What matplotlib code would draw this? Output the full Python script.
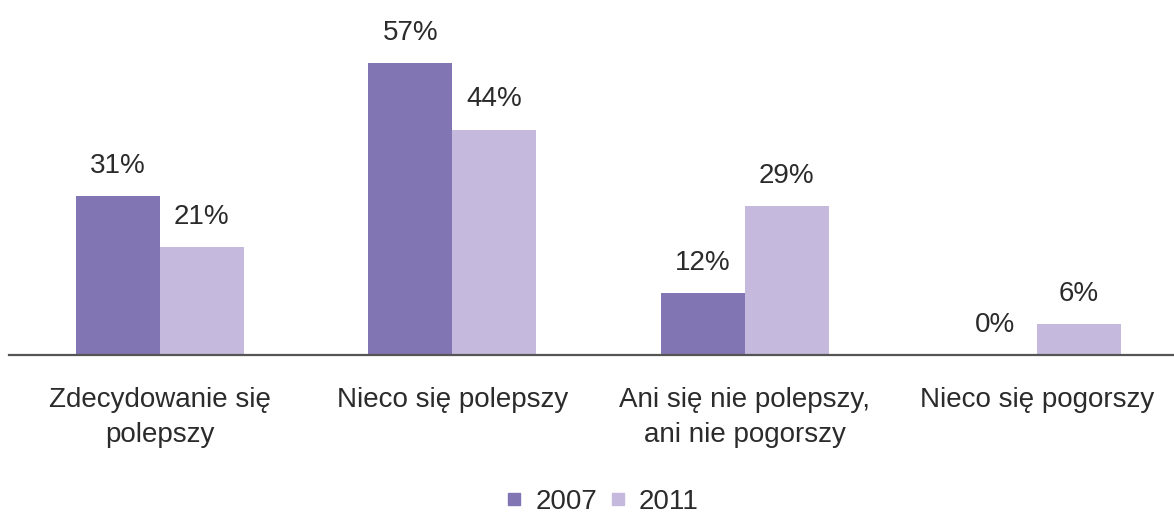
"""
Grouped bar chart: opinion change, 2007 vs 2011.
"""

import matplotlib
matplotlib.use("Agg")
import matplotlib.pyplot as plt
from matplotlib.lines import Line2D
import numpy as np

# ---------------------------------------------------------------------------
# Data
# ---------------------------------------------------------------------------

categories = [
    "Zdecydowanie się\npolepszy",
    "Nieco się polepszy",
    "Ani się nie polepszy,\nani nie pogorszy",
    "Nieco się pogorszy",
]
series_names = ["2007", "2011"]
values_2007 = [31, 57, 12, 0]
values_2011 = [21, 44, 29, 6]

COLORS = ["#8275B3", "#C5B9DE"]
TEXT = "#2b2b2b"

plt.rcParams["font.family"] = ["Liberation Sans", "DejaVu Sans"]


def main() -> None:
    fig = plt.figure(figsize=(11.74, 5.15), dpi=100)
    ax = fig.add_axes([0.0077, 0.311, 0.9923, 0.689])

    x = np.arange(len(categories))
    width = 0.287

    for i, (name, vals) in enumerate(zip(series_names, [values_2007, values_2011])):
        xs = x + (i - 0.5) * width
        ax.bar(xs, vals, width=width, color=COLORS[i], label=name)
        for xi, v in zip(xs, vals):
            ax.annotate(
                f"{v}%", (xi, v), xytext=(0, 21.8), textcoords="offset points",
                ha="center", va="center", fontsize=20, color=TEXT,
            )

    ax.set_xlim(-0.515, 3.468)
    ax.set_ylim(0, 69.3)

    for s in ["top", "left", "right"]:
        ax.spines[s].set_visible(False)
    ax.spines["bottom"].set_color("#555555")
    ax.spines["bottom"].set_linewidth(1.6)
    ax.set_yticks([])

    ax.set_xticks(x)
    ax.set_xticklabels(categories, fontsize=20, color=TEXT, linespacing=1.45)
    ax.tick_params(axis="x", length=0, pad=23)

    handles = [
        Line2D([], [], marker="s", linestyle="none", markersize=9,
               markerfacecolor=c, markeredgecolor=c)
        for c in COLORS
    ]
    fig.legend(
        handles, series_names, loc="center", bbox_to_anchor=(0.513, 0.025),
        ncol=2, frameon=False, fontsize=20, labelcolor=TEXT,
        handlelength=0.6, handletextpad=0.45, columnspacing=0.45,
    )

    fig.savefig("out.png", dpi=100)
    plt.close(fig)


if __name__ == "__main__":
    main()
